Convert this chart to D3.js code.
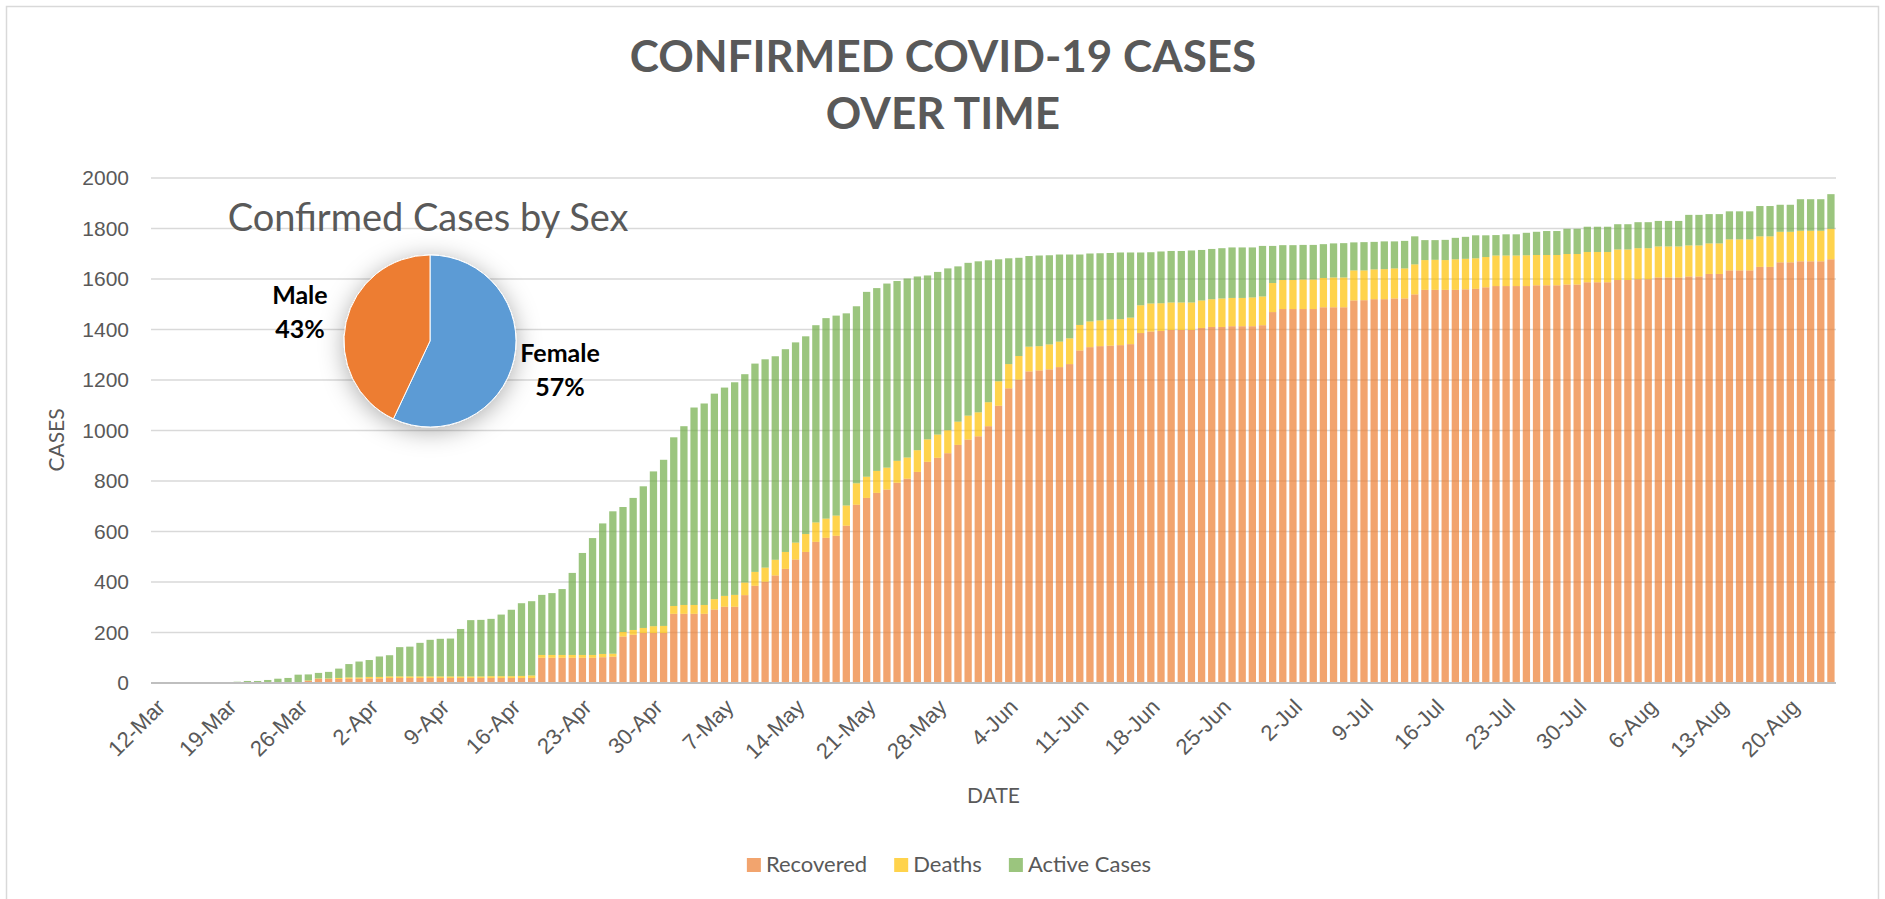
<!DOCTYPE html>
<html>
<head>
<meta charset="utf-8">
<script src="https://cdn.jsdelivr.net/npm/d3@7"></script>
<style>
    body { margin: 0; background: #fff; }
    svg { display: block; font-family: Lato, 'Open Sans', sans-serif; }
</style>
</head>
<body>
<svg id="chart"></svg>
<script>
// daily series start on 12 March
const startDay = new Date(2020, 2, 12);

const tickLabels = ['12-Mar', '19-Mar', '26-Mar', '2-Apr', '9-Apr', '16-Apr', '23-Apr', '30-Apr',
    '7-May', '14-May', '21-May', '28-May', '4-Jun', '11-Jun', '18-Jun', '25-Jun', '2-Jul',
    '9-Jul', '16-Jul', '23-Jul', '30-Jul', '6-Aug', '13-Aug', '20-Aug'];

const yTicks = [0, 200, 400, 600, 800, 1000, 1200, 1400, 1600, 1800, 2000];

const recovered = [
    0, 0, 0, 0, 0, 0, 0, 0, 0, 0,
    0, 0, 0, 0, 2, 8, 16, 16, 16, 17,
    17, 18, 18, 20, 20, 20, 20, 20, 20, 20,
    20, 20, 20, 20, 20, 20, 20, 20, 100, 100,
    100, 100, 100, 100, 102, 104, 184, 191, 198, 198,
    198, 274, 274, 274, 274, 291, 302, 302, 348, 385,
    401, 426, 452, 489, 519, 559, 575, 583, 623, 706,
    733, 753, 766, 793, 809, 836, 876, 892, 910, 943,
    964, 977, 1017, 1098, 1167, 1201, 1234, 1238, 1242, 1251,
    1263, 1317, 1330, 1334, 1336, 1338, 1342, 1386, 1392, 1394,
    1398, 1398, 1398, 1406, 1410, 1410, 1413, 1413, 1413, 1417,
    1469, 1481, 1481, 1481, 1481, 1488, 1488, 1488, 1515, 1516,
    1520, 1520, 1523, 1523, 1539, 1557, 1557, 1557, 1557, 1559,
    1561, 1567, 1572, 1572, 1572, 1572, 1575, 1575, 1575, 1578,
    1578, 1587, 1587, 1587, 1596, 1596, 1599, 1599, 1606, 1606,
    1606, 1610, 1610, 1620, 1620, 1634, 1634, 1634, 1648, 1648,
    1666, 1666, 1670, 1670, 1670, 1678
];

const deaths = [
    0, 0, 0, 0, 0, 0, 0, 0, 0, 0,
    0, 0, 0, 0, 0, 2, 2, 2, 4, 5,
    5, 6, 6, 6, 6, 6, 6, 6, 6, 6,
    6, 6, 6, 7, 7, 7, 8, 10, 11, 11,
    11, 11, 11, 11, 13, 12, 18, 19, 20, 27,
    28, 31, 35, 35, 35, 41, 43, 47, 50, 55,
    56, 62, 67, 67, 71, 77, 76, 80, 80, 85,
    84, 87, 87, 87, 84, 86, 89, 92, 91, 92,
    95, 95, 95, 97, 96, 94, 98, 96, 99, 101,
    102, 101, 102, 102, 104, 103, 105, 110, 111, 110,
    109, 109, 109, 109, 110, 113, 112, 112, 114, 114,
    115, 115, 115, 117, 117, 116, 118, 118, 119, 118,
    118, 119, 119, 119, 119, 118, 119, 118, 121, 121,
    121, 120, 121, 121, 121, 122, 120, 120, 120, 121,
    121, 120, 120, 120, 121, 121, 123, 123, 123, 123,
    123, 123, 123, 121, 121, 123, 123, 123, 121, 121,
    121, 121, 121, 121, 121, 121
];

const active = [
    0, 0, 0, 0, 1, 1, 2, 2, 5, 8,
    8, 12, 17, 20, 31, 24, 22, 26, 37, 53,
    63, 67, 81, 84, 116, 118, 133, 145, 149, 150,
    188, 223, 224, 227, 244, 263, 288, 294, 238, 245,
    261, 325, 404, 463, 517, 564, 495, 523, 561, 613,
    658, 668, 708, 782, 798, 814, 825, 842, 825, 825,
    825, 806, 803, 793, 783, 781, 794, 792, 761, 701,
    732, 724, 729, 712, 709, 688, 649, 644, 641, 615,
    605, 598, 562, 483, 419, 389, 359, 359, 353, 345,
    332, 279, 269, 266, 263, 264, 258, 209, 203, 205,
    204, 204, 206, 200, 199, 199, 200, 200, 198, 200,
    147, 138, 138, 137, 137, 134, 135, 136, 111, 112,
    109, 110, 107, 109, 111, 79, 78, 80, 85, 87,
    91, 86, 81, 84, 84, 89, 92, 95, 95, 100,
    100, 100, 100, 100, 100, 100, 103, 103, 101, 101,
    101, 121, 121, 116, 116, 111, 111, 111, 120, 120,
    107, 107, 125, 125, 125, 137
];

const seriesNames = ['Recovered', 'Deaths', 'Active Cases'];
const seriesColors = ['#ED7D31', '#FFC000', '#70AD47'];

const sexLabels = ['Female', 'Male'];
const sexShares = [57, 43];
const sexColors = ['#5B9BD5', '#ED7D31'];

class CasesChart {
    constructor(parentElement) {
        this.parentElement = parentElement;
        this.initVis();
    }

    initVis() {
        this.width = 1885;
        this.height = 899;
        this.plot = { left: 151, right: 1836, top: 178, bottom: 683 };
        this.textColor = '#595959';

        this.svg = d3
            .select(this.parentElement)
            .attr('width', this.width)
            .attr('height', this.height);

        // outer chart frame
        this.svg
            .append('rect')
            .attr('x', 6.5)
            .attr('y', 6.5)
            .attr('width', 1872)
            .attr('height', 920)
            .attr('fill', '#fff')
            .attr('stroke', '#d9d9d9')
            .attr('stroke-width', 1.5);

        this.table = recovered.map((d, i) => ({
            date: d3.timeDay.offset(startDay, i),
            Recovered: d,
            Deaths: deaths[i],
            'Active Cases': active[i]
        }));

        this.formatDay = d3.timeFormat('%-d-%b');

        this.x = d3
            .scaleBand()
            .domain(this.table.map(d => d.date))
            .range([this.plot.left, this.plot.right])
            .paddingInner(0.28)
            .paddingOuter(0.14);

        this.y = d3
            .scaleLinear()
            .domain([0, 2000])
            .range([this.plot.bottom, this.plot.top]);

        this.color = d3
            .scaleOrdinal()
            .domain(seriesNames)
            .range(seriesColors);

        this.drawTitle();
        this.drawAxes();
        this.drawBars();
        this.drawPie();
        this.drawLegend();
    }

    drawTitle() {
        const title = this.svg
            .append('text')
            .attr('text-anchor', 'middle')
            .attr('fill', this.textColor)
            .attr('font-weight', 'bold')
            .attr('font-size', 44);

        title.append('tspan').attr('x', 943).attr('y', 72).text('CONFIRMED COVID-19 CASES');
        title.append('tspan').attr('x', 943).attr('y', 129).text('OVER TIME');
    }

    drawAxes() {
        // horizontal gridlines
        this.svg
            .append('g')
            .selectAll('line')
            .data(yTicks.filter(d => d > 0))
            .join('line')
            .attr('x1', this.plot.left)
            .attr('x2', this.plot.right)
            .attr('y1', d => this.y(d))
            .attr('y2', d => this.y(d))
            .attr('stroke', '#d9d9d9')
            .attr('stroke-width', 1.3);

        const yAxis = this.svg
            .append('g')
            .attr('transform', `translate(${this.plot.left}, 0)`)
            .call(
                d3.axisLeft(this.y)
                    .tickValues(yTicks)
                    .tickFormat(d3.format('d'))
                    .tickSize(0)
                    .tickPadding(22)
            );
        yAxis.select('.domain').remove();
        yAxis
            .selectAll('text')
            .attr('font-family', null)
            .attr('font-size', 21)
            .attr('fill', this.textColor);

        const tickDates = this.table
            .map(d => d.date)
            .filter(d => tickLabels.includes(this.formatDay(d)));

        const xAxis = this.svg
            .append('g')
            .attr('transform', `translate(0, ${this.plot.bottom})`)
            .call(
                d3.axisBottom(this.x)
                    .tickValues(tickDates)
                    .tickFormat(this.formatDay)
                    .tickSize(0)
            );
        xAxis.select('.domain').remove();
        xAxis
            .selectAll('text')
            .attr('font-family', null)
            .attr('font-size', 22)
            .attr('fill', this.textColor)
            .attr('text-anchor', 'end')
            .attr('y', 0)
            .attr('dy', '0.35em')
            .attr('transform', 'translate(5, 20) rotate(-45)');

        // axis titles
        this.svg
            .append('text')
            .attr('x', (this.plot.left + this.plot.right) / 2)
            .attr('y', 803)
            .attr('text-anchor', 'middle')
            .attr('font-size', 21)
            .attr('fill', this.textColor)
            .text('DATE');

        this.svg
            .append('text')
            .attr('transform', 'translate(64, 440) rotate(-90)')
            .attr('text-anchor', 'middle')
            .attr('font-size', 21)
            .attr('fill', this.textColor)
            .text('CASES');
    }

    drawBars() {
        const stack = d3.stack().keys(seriesNames);
        const layers = stack(this.table);

        this.svg
            .append('g')
            .selectAll('g')
            .data(layers)
            .join('g')
            .attr('fill', d => this.color(d.key))
            .attr('fill-opacity', 0.7)
            .selectAll('rect')
            .data(d => d)
            .join('rect')
            .attr('x', d => this.x(d.data.date))
            .attr('width', this.x.bandwidth())
            .attr('y', d => this.y(d[1]))
            .attr('height', d => this.y(d[0]) - this.y(d[1]));

        // category axis line
        this.svg
            .append('line')
            .attr('x1', this.plot.left)
            .attr('x2', this.plot.right)
            .attr('y1', this.plot.bottom)
            .attr('y2', this.plot.bottom)
            .attr('stroke', '#bfbfbf')
            .attr('stroke-width', 2);
    }

    drawPie() {
        const cx = 430;
        const cy = 341;
        const radius = 86;

        const defs = this.svg.append('defs');
        defs.append('filter')
            .attr('id', 'pie-shadow')
            .attr('x', '-60%')
            .attr('y', '-60%')
            .attr('width', '220%')
            .attr('height', '220%')
            .append('feDropShadow')
            .attr('dx', 0)
            .attr('dy', 4)
            .attr('stdDeviation', 12)
            .attr('flood-color', '#000')
            .attr('flood-opacity', 0.32);

        // inset title
        this.svg
            .append('text')
            .attr('x', cx - 2)
            .attr('y', 231)
            .attr('text-anchor', 'middle')
            .attr('font-size', 38)
            .attr('fill', this.textColor)
            .text('Confirmed Cases by Sex');

        const pieData = sexLabels.map((d, i) => ({ sex: d, share: sexShares[i] }));

        const pie = d3
            .pie()
            .sort(null)
            .value(d => d.share);

        const arc = d3.arc().innerRadius(0).outerRadius(radius);
        const labelArc = d3.arc().innerRadius(radius * 1.55).outerRadius(radius * 1.55);

        const g = this.svg
            .append('g')
            .attr('transform', `translate(${cx}, ${cy})`);

        g.append('g')
            .attr('filter', 'url(#pie-shadow)')
            .selectAll('path')
            .data(pie(pieData))
            .join('path')
            .attr('d', arc)
            .attr('fill', (d, i) => sexColors[i])
            .attr('stroke', '#fff')
            .attr('stroke-width', 1);

        const labels = g
            .selectAll('text')
            .data(pie(pieData))
            .join('text')
            .attr('transform', d => `translate(${labelArc.centroid(d)})`)
            .attr('text-anchor', 'middle')
            .attr('font-weight', 'bold')
            .attr('font-size', 25)
            .attr('fill', '#000');

        labels.append('tspan').attr('x', 0).attr('y', -8).text(d => d.data.sex);
        labels.append('tspan').attr('x', 0).attr('y', 26).text(d => `${d.data.share}%`);
    }

    drawLegend() {
        const legend = this.svg.append('g');
        const gap = 27;
        let offset = 0;

        seriesNames.forEach((name, i) => {
            const item = legend.append('g').attr('transform', `translate(${offset}, 0)`);
            item.append('rect')
                .attr('x', 0)
                .attr('y', 858)
                .attr('width', 14)
                .attr('height', 14)
                .attr('fill', this.color(name))
                .attr('fill-opacity', 0.7);
            const label = item.append('text')
                .attr('x', 19)
                .attr('y', 872)
                .attr('font-size', 22)
                .attr('fill', this.textColor)
                .text(name);
            offset += 19 + label.node().getComputedTextLength() + gap;
        });

        // center the whole legend under the chart
        const total = offset - gap;
        legend.attr('transform', `translate(${949 - total / 2}, 0)`);
    }
}

new CasesChart('#chart');
</script>
</body>
</html>
